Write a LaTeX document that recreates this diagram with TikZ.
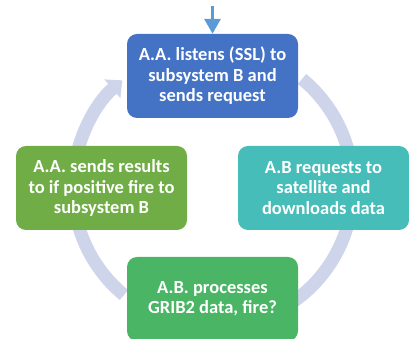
\documentclass[tikz,border=0pt]{standalone}
\usepackage{fontspec}
\setmainfont{Carlito}[BoldFont={Carlito Bold}]
\usetikzlibrary{arrows.meta}
\definecolor{ringcol}{RGB}{206,212,234}
\definecolor{boxblue}{RGB}{68,114,196}
\definecolor{boxteal}{RGB}{70,189,184}
\definecolor{boxolive}{RGB}{112,173,71}
\definecolor{boxgreen}{RGB}{74,181,101}
\definecolor{feedblue}{RGB}{91,155,213}
\begin{document}
\begin{tikzpicture}[x=1pt,y=1pt,
  stage/.style={rounded corners=10pt, minimum width=171pt, minimum height=84pt,
    inner sep=0pt, align=center, text=white,
    font=\fontsize{18.5}{20.5}\selectfont\bfseries},
  ring/.style={line width=13pt, draw=ringcol},
  feed/.style={draw=feedblue, line width=3.3pt, -{Triangle[width=16pt,length=15pt]}}]
\useasboundingbox (0,0) rectangle (409,339);
\coordinate (hub) at (213,152);
% circular flow behind the stages
\draw[ring] (hub) ++(50.5:140) arc[start angle=50.5, end angle=-60, radius=140];
\draw[ring, -{Triangle[width=24pt,length=13pt]}] (hub) ++(230.5:140)
  arc[start angle=230.5, end angle=130.4, radius=140];
% stages
\node[stage, fill=boxblue] (listen) at (212.5,263)
  {A.A. listens (SSL) to\\subsystem B and\\sends request};
\node[stage, fill=boxteal] (fetch) at (323.5,151)
  {A.B requests to\\satellite and\\downloads data};
\node[stage, fill=boxgreen] (proc) at (212.5,40)
  {A.B. processes\\GRIB2 data, fire?};
\node[stage, fill=boxolive] (report) at (101.5,151)
  {A.A. sends results\\to if positive fire to\\subsystem B};
% incoming trigger
\coordinate (entry) at (212.5,333);
\draw[feed] (entry) -- (listen.north);
\end{tikzpicture}
\end{document}
